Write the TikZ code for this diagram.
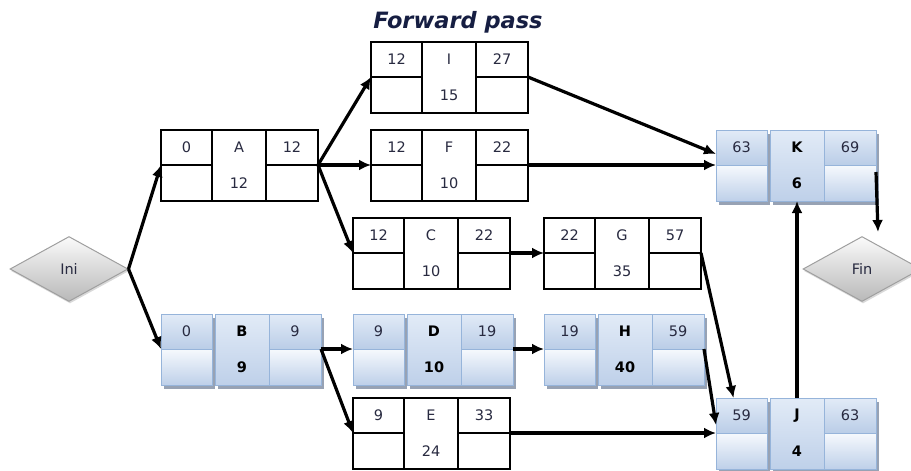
\documentclass[tikz,border=0pt]{standalone}
\usepackage{fontspec}
\setmainfont{DejaVu Sans}
\usetikzlibrary{arrows.meta,shapes.geometric,shadows}

\definecolor{cellink}{RGB}{40,42,64}
\definecolor{titleink}{RGB}{22,30,66}
\definecolor{bline}{RGB}{150,180,218}
\definecolor{btopa}{RGB}{226,235,247}
\definecolor{btopb}{RGB}{186,205,231}
\definecolor{bbota}{RGB}{246,249,253}
\definecolor{bbotb}{RGB}{190,208,233}
\definecolor{bshade}{RGB}{140,152,172}

\newcommand{\cellfont}{\fontsize{14.5}{16}\selectfont}

% one activity box: name, top left corner, ES, activity, duration, EF, look (w or b)
\newcommand{\actbox}[7]{%
  \node[#7top, minimum width=51pt, minimum height=35pt, anchor=north west] (#1-es) at (#2) {#3};
  \node[#7bot, minimum width=51pt, minimum height=36pt, anchor=north] (#1-ls) at (#1-es.south) {};
  \node[#7mid, minimum width=54pt, minimum height=71pt, anchor=north west] (#1-mid) at (#1-es.north east) {};
  \node[#7lab] (#1-id) at (#1-mid |- #1-es) {#4};
  \node[#7lab] (#1-dur) at (#1-mid |- #1-ls) {#5};
  \node[#7top, minimum width=52pt, minimum height=35pt, anchor=north west] (#1-ef) at (#1-mid.north east) {#6};
  \node[#7bot, minimum width=52pt, minimum height=36pt, anchor=north] (#1-lf) at (#1-ef.south) {};
}

\tikzset{
  cell/.style={rectangle, outer sep=0pt, inner sep=0pt, font=\cellfont, text=cellink},
  wtop/.style={cell, draw=black, line width=1.8pt, fill=white},
  wbot/.style={wtop},
  wmid/.style={wtop},
  wlab/.style={font=\cellfont, text=cellink},
  bcell/.style={cell, draw=bline, line width=1pt,
    drop shadow={shadow xshift=3pt, shadow yshift=-4pt, fill=bshade, opacity=0.9}},
  btop/.style={bcell, top color=btopa, bottom color=btopb},
  bbot/.style={bcell, top color=bbota, bottom color=bbotb},
  bmid/.style={bcell, xshift=3pt, top color=btopa, middle color=bbota, bottom color=bbotb},
  blab/.style={font=\cellfont\bfseries, text=black},
  term/.style={diamond, draw=gray!75, line width=1pt, top color=gray!4, bottom color=gray!55,
    minimum width=118pt, minimum height=65pt, inner sep=0pt, font=\cellfont, text=cellink,
    drop shadow={shadow xshift=1pt, shadow yshift=-2pt, fill=gray!50, opacity=0.6}},
  arr/.style={line width=3.2pt, -{Latex[length=12pt,width=11pt]}}
}

\begin{document}
\begin{tikzpicture}[x=1pt, y=-1pt]
  \clip (0,0) rectangle (911,471);

  % Title
  \node[font=\fontsize{22.5}{26}\selectfont\bfseries\itshape, text=titleink] (title) at (458,22) {Forward pass};

  % Start and end
  \node[term] (ini) at (69,269) {Ini};
  \node[term] (fin) at (862,269) {Fin};

  % Activities
  \actbox{A}{161,130}{0}{A}{12}{12}{w}
  \actbox{I}{371,42}{12}{I}{15}{27}{w}
  \actbox{F}{371,130}{12}{F}{10}{22}{w}
  \actbox{C}{353,218}{12}{C}{10}{22}{w}
  \actbox{G}{544,218}{22}{G}{35}{57}{w}
  \actbox{E}{353,398}{9}{E}{24}{33}{w}
  \actbox{B}{161,314}{0}{B}{9}{9}{b}
  \actbox{D}{353,314}{9}{D}{10}{19}{b}
  \actbox{H}{544,314}{19}{H}{40}{59}{b}
  \actbox{K}{716,130}{63}{K}{6}{69}{b}
  \actbox{J}{716,398}{59}{J}{4}{63}{b}

  % Precedences
  \foreach \from/\to in {ini.east/A-es.south west, ini.east/B-es.south west,
      A-ef.south east/I-es.south west, A-ef.south east/F-es.south west,
      A-ef.south east/C-es.south west, F-ef.south east/K-es.south west,
      C-ef.south east/G-es.south west, B-ef.south east/D-es.south west,
      B-ef.south east/E-es.south west, D-ef.south east/H-es.south west,
      E-ef.south east/J-es.south west, J-mid.north/K-mid.south}
    \draw[arr] (\from) -- (\to);
  \draw[arr] (I-ef.south east) -- ([yshift=11pt]K-es.south west);
  \draw[arr] (G-ef.south east) -- ([xshift=-8pt]J-es.north);
  \draw[arr] (H-ef.south east) -- ([yshift=8pt]J-es.south west);
  \draw[arr] ([yshift=-7pt]K-lf.north east) -- ([xshift=16pt,yshift=4pt]fin.north);
\end{tikzpicture}
\end{document}
